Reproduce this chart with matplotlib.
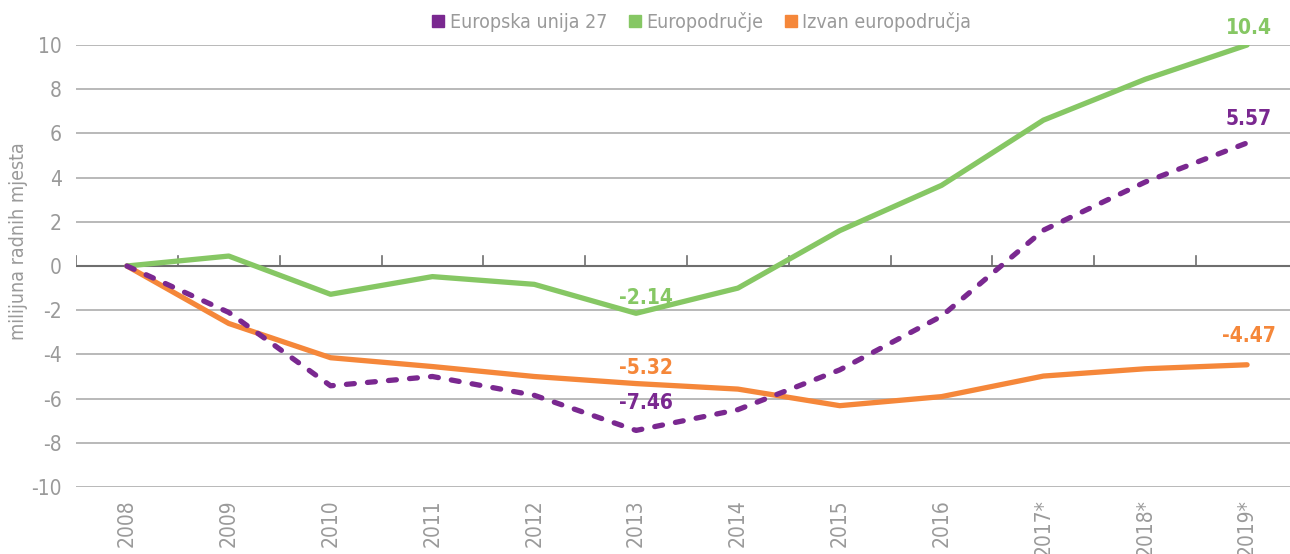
import numpy as np
import matplotlib.pyplot as plt

# years on the x axis (the last three are estimates)
years = ["2008", "2009", "2010", "2011", "2012", "2013", "2014",
         "2015", "2016", "2017*", "2018*", "2019*"]

# change in jobs since 2008, millions
eu27 = [0, -2.1, -5.42, -5.0, -5.85, -7.44, -6.5, -4.7, -2.27, 1.62, 3.8, 5.57]
euro_area = [0, 0.45, -1.28, -0.48, -0.83, -2.14, -1.0, 1.6, 3.65, 6.6, 8.45, 10.0]
non_euro = [0, -2.6, -4.15, -4.55, -5.0, -5.32, -5.57, -6.32, -5.91, -4.98, -4.65, -4.47]

names = ["Europska unija 27", "Europodručje", "Izvan europodručja"]

# value labels: (series index, year index, text, lift above the point)
labels = [(1, 5, "-2.14", 0.7), (2, 5, "-5.32", 0.72), (0, 5, "-7.46", 1.25),
          (1, 11, "10.4", 0.78), (0, 11, "5.57", 1.1), (2, 11, "-4.47", 1.3)]

purple = "#7a2890"
green = "#86c764"
orange = "#f5873a"
grey = "#9a9a9a"

plt.rcParams["font.family"] = ["DejaVu Sans"]
plt.rcParams["font.stretch"] = "condensed"
plt.rcParams["axes.unicode_minus"] = False

fig = plt.figure(figsize=(12.9, 5.54), dpi=100)
ax = fig.add_axes([76 / 1290, 67 / 554, 1222 / 1290, 442 / 554])

x = np.arange(len(years))
series = [eu27, euro_area, non_euro]
ax.plot(x, non_euro, color=orange, lw=3.8, solid_capstyle="round", zorder=3)
ax.plot(x, euro_area, color=green, lw=3.8, solid_capstyle="round", zorder=4)
ax.plot(x, eu27, color=purple, lw=3.8, dashes=(1.5, 2.5),
        dash_capstyle="round", zorder=5)

cols = [purple, green, orange]
for si, yi, txt, lift in labels:
    dx = 0.1 if yi == 5 else 0.02
    ax.text(x[yi] + dx, series[si][yi] + lift, txt, color=cols[si], fontsize=15,
            fontweight="bold", ha="center", va="center", clip_on=False)

ax.set_xlim(-0.5, len(years) - 0.5)
ax.set_ylim(-10, 10)
ax.set_yticks(np.arange(-10, 11, 2))
ax.set_xticks(x)
ax.set_xticklabels(years, rotation=90, color=grey, fontsize=15)
ax.tick_params(axis="y", length=0, pad=10, labelsize=15, labelcolor=grey)
ax.tick_params(axis="x", length=0, pad=9)
ax.grid(axis="y", color="#b3b3b3", lw=1.3, zorder=0)
for s in ax.spines.values():
    s.set_visible(False)

# zero line with small category separators
ax.axhline(0, color="#6e6e6e", lw=1.5, zorder=2)
for b in np.arange(-0.5, len(years), 1.0):
    ax.plot([b, b], [0, 0.45], color="#6e6e6e", lw=1.2, zorder=2)

fig.text(19 / 1290, 1 - 241 / 554, "milijuna radnih mjesta", rotation=90,
         color=grey, fontsize=14, ha="center", va="center")

handles = [plt.Line2D([], [], ls="none", marker="s", ms=9, color=c) for c in cols]
fig.legend(handles, names, loc="center", bbox_to_anchor=(700 / 1290, 1 - 22 / 554),
           ncol=3, frameon=False, fontsize=14, labelcolor=grey,
           handletextpad=0.1, columnspacing=0.9, handlelength=1.0)

fig.savefig("out.png", dpi=100)
